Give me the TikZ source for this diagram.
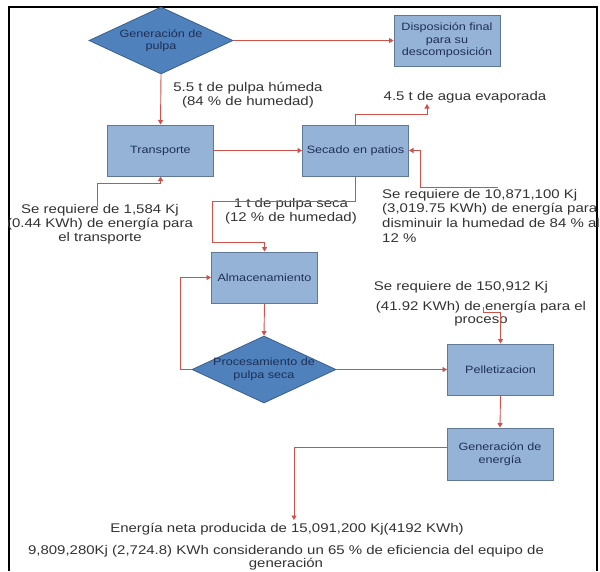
\documentclass[tikz,border=0pt]{standalone}
\usepackage{fontspec}
\setmainfont{Liberation Sans}[FakeStretch=1.19]
\usetikzlibrary{shapes.geometric,arrows.meta,calc}
\definecolor{boxfill}{HTML}{95B3D7}
\definecolor{boxline}{HTML}{5F7896}
\definecolor{diafill}{HTML}{4F81BD}
\definecolor{dialine}{HTML}{3A5F8C}
\definecolor{arrred}{HTML}{D0504A}
\definecolor{boxtext}{HTML}{1F3055}
\definecolor{labtext}{HTML}{333333}
\tikzset{
  procbox/.style={draw=boxline, line width=1pt, fill=boxfill, minimum width=106pt, minimum height=51pt, inner sep=0pt, align=center, text=boxtext, font=\fontsize{10.6}{12.5}\selectfont},
  dia/.style={diamond, draw=dialine, line width=0.8pt, fill=diafill, minimum width=144pt, minimum height=67pt, inner sep=0pt},
  diatext/.style={align=center, text=boxtext, font=\fontsize{10.6}{12.5}\selectfont, inner sep=0pt},
  lab/.style={align=center, text=labtext, font=\fontsize{12.6}{14}\selectfont, inner sep=0pt},
  arr/.style={draw=arrred, line width=0.9pt, -{Triangle[width=5pt,length=4.5pt]}}
}
\begin{document}
\begin{tikzpicture}[x=1pt,y=-1pt]
\useasboundingbox (0,0) rectangle (600,571);
\fill[white] (0,0) rectangle (600,571);
% frame
\draw[black, line width=1.1pt] (9,571) -- (9,7) -- (597,7) -- (597,571);

% nodes
\node[dia, label={[diatext]center:Generación de\\pulpa}] (gp) at (161,40.5) {};
\node[procbox] (disp) at (447,40.5) {Disposición final\\para su\\descomposición};
\node[procbox] (trans) at (160.5,150.5) {Transporte};
\node[procbox] (sec) at (355.5,150.5) {Secado en patios};
\node[procbox] (alm) at (264.5,277.5) {Almacenamiento};
\node[dia, label={[diatext]center:Procesamiento de\\pulpa seca}] (proc) at (264,369.5) {};
\node[procbox] (pel) at (500.5,369.5) {Pelletizacion};
\node[procbox, minimum height=52pt] (gen) at (500,454) {Generación de\\energía};

% labels
\node[lab] (l1) at (248,95) {5.5 t de pulpa húmeda\\(84 \% de humedad)};
\node[lab] (l2) at (465,97) {4.5 t de agua evaporada};
\node[lab] (l3) at (100,224) {Se requiere de 1,584 Kj\\(0.44 KWh) de energía para\\el transporte};
\node[lab] (l4) at (291,211.5) {1 t de pulpa seca\\(12 \% de humedad)};
\node[lab, align=left, anchor=north west, font=\fontsize{12.6}{14.6}\selectfont] (l5) at (382,189) {Se requiere de 10,871,100 Kj\\(3,019.75 KWh) de energía para\\disminuir la humedad de 84 \% al\\12 \%};
\node[lab] (l6) at (461,287) {Se requiere de 150,912 Kj};
\node[lab, font=\fontsize{12.6}{13.5}\selectfont] (l7) at (481,313.5) {(41.92 KWh) de energía para el\\proceso};
\node[lab] (l8) at (287,529) {Energía neta producida de 15,091,200 Kj(4192 KWh)};
\node[lab, font=\fontsize{12.6}{13.2}\selectfont] (l9) at (286,558) {9,809,280Kj (2,724.8) KWh considerando un 65 \% de eficiencia del equipo de\\generación};

% free ends
\coordinate (evap) at (427,104);
\coordinate (e1) at (97,207);
\coordinate (e2) at (498,187);
\coordinate (e3) at (483,307);
\coordinate (s1) at (212,201);
\coordinate (en) at (294,520);

% connectors
\draw[arr] (gp.east) -- (disp.west);
\draw[arr] (gp.south) -- (trans.north);
\draw[arr] (trans.east) -- (sec.west);
\draw[arr] (sec.north) -- ++(0,-10) -| (evap);
\draw[arr] (e2) -| ($(sec.east)+(11,0)$) -- (sec.east);
\draw[arr] (e1) |- ($(trans.south)+(0,7)$) -- (trans.south);
\draw[arr] (sec.south) |- (s1) |- ($(alm.north)+(0,-9)$) -- (alm.north);
\draw[arr] (alm.south) -- (proc.north);
\draw[arr] (proc.west) -- ++(-11,0) |- (alm.west);
\draw[arr] (proc.east) -- (pel.west);
\draw[arr] (e3) -- ++(0,5) -| (pel.north);
\draw[arr] (pel.south) -- (gen.north);
\draw[arr] ($(gen.west)+(0,-7)$) -| (en);
\end{tikzpicture}
\end{document}
